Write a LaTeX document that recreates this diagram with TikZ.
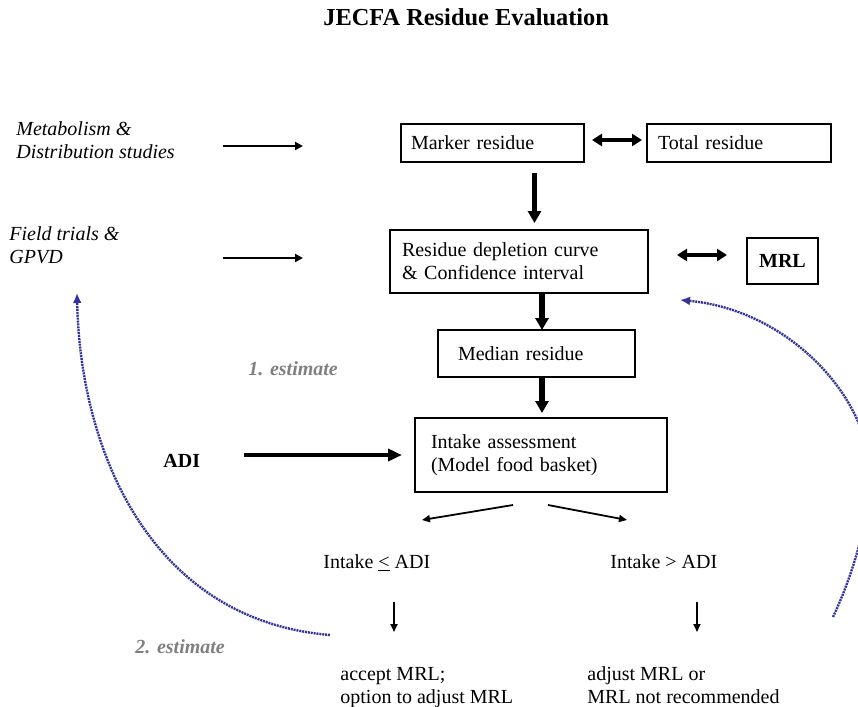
\documentclass[tikz,border=0pt]{standalone}
\usepackage{fontspec}
\setmainfont{Liberation Serif}
\usetikzlibrary{arrows.meta}
\definecolor{loopblue}{RGB}{51,51,153}
\definecolor{notegray}{RGB}{128,128,128}
\tikzset{
    box/.style={draw,line width=0.7pt,anchor=north west,align=left,inner ysep=2pt,outer sep=0pt,font=\fontsize{10}{11.5}\selectfont},
    txt/.style={anchor=base west,align=left,inner sep=0pt,font=\fontsize{10}{11.5}\selectfont},
    note/.style={anchor=base west,inner sep=0pt,text=notegray,font=\fontsize{10}{11.5}\selectfont\bfseries\itshape},
    in arrow/.style={line width=1.2pt,-{Triangle[length=4pt,width=4pt]}},
    flow arrow/.style={line width=2.6pt,-{Triangle[length=6pt,width=6.5pt]}},
    adi arrow/.style={line width=1.9pt,-{Triangle[length=7pt,width=6pt]}},
    both arrow/.style={line width=1.6pt,{Triangle[length=5pt,width=6pt]}-{Triangle[length=5pt,width=6pt]}},
    split arrow/.style={line width=0.9pt,-{Triangle[length=4pt,width=3.5pt]}},
    loop arrow/.style={loopblue,line width=1.2pt,dash pattern=on 1pt off 0.45pt,-{Latex[length=5pt,width=4.5pt]}},
}
\begin{document}
\begin{tikzpicture}[x=0.5pt,y=-0.5pt]
        \path[use as bounding box] (0,0) rectangle (858,707);
        %% title
        \node[anchor=base west,inner sep=0pt,font=\fontsize{12.2}{14}\selectfont\bfseries] (title) at (323,25) {JECFA Residue Evaluation};
        %% boxes
        \node[box,text width=81.5pt,inner xsep=5pt,minimum height=19pt] (marker) at (401,124) {Marker residue};
        \node[box,text width=81pt,inner xsep=5.5pt,minimum height=19pt] (total) at (647,124) {Total residue};
        \node[box,text width=117pt,inner xsep=6pt,minimum height=31.5pt] (curve) at (390,230) {Residue depletion curve\\\& Confidence interval};
        \node[box,align=center,minimum width=35.5pt,minimum height=23pt,inner xsep=0pt,font=\fontsize{10}{11.5}\selectfont\bfseries] (mrl) at (747,238) {MRL};
        \node[box,text width=78.5pt,inner xsep=10pt,minimum height=23.5pt] (median) at (438,330) {Median residue};
        \node[box,text width=110pt,inner xsep=8pt,minimum height=37pt] (intake) at (415,418) {Intake assessment\\(Model food basket)};
        %% inputs (base = last line)
        \node[txt,font=\fontsize{10}{11.5}\selectfont\itshape] (meta) at (16,158) {Metabolism \&\\Distribution studies};
        \node[txt,font=\fontsize{10}{11.5}\selectfont\itshape] (field) at (9,263) {Field trials \&\\GPVD};
        \node[txt,font=\fontsize{10}{11.5}\selectfont\bfseries] (adi) at (163,467) {ADI};
        \coordinate (metaA) at (223,146);
        \coordinate (metaB) at (303,146);
        \coordinate (fieldA) at (223,258);
        \coordinate (fieldB) at (303,258);
        \draw[in arrow] (metaA) -- (metaB);
        \draw[in arrow] (fieldA) -- (fieldB);
        %% main flow
        \draw[both arrow,shorten <=4pt,shorten >=2.5pt] ([yshift=1.5pt]marker.east) -- ([yshift=1.5pt]marker.east -| total.west);
        \draw[both arrow,shorten <=14.5pt,shorten >=10pt] ([yshift=3.25pt]curve.east) -- ([yshift=3.25pt]curve.east -| mrl.west);
        \draw[flow arrow,shorten <=5.5pt,shorten >=3.5pt] ([xshift=21pt]marker.south) -- ([xshift=21pt]marker.south |- curve.north);
        \draw[flow arrow] ([xshift=11.5pt]curve.south) -- ([xshift=11.5pt]curve.south |- median.north);
        \draw[flow arrow,shorten >=2.5pt] ([xshift=2.75pt]median.south) -- ([xshift=2.75pt]median.south |- intake.north);
        \draw[adi arrow,shorten <=22pt,shorten >=6.5pt] (adi.east |- intake.west) -- (intake.west);
        %% outcomes
        \node[txt] (low) at (323,568) {Intake \underline{<} ADI};
        \node[txt] (high) at (610,568) {Intake > ADI};
        \node[txt] (accept) at (340,703) {accept MRL;\\option to adjust MRL};
        \node[txt] (adjust) at (587,703) {adjust MRL or\\MRL not recommended};
        \coordinate (lowtip) at (422,520);
        \coordinate (hightip) at (627,520);
        \draw[split arrow] ([xshift=-14pt,yshift=-6.5pt]intake.south) -- (lowtip);
        \draw[split arrow] ([xshift=3.5pt,yshift=-6.5pt]intake.south) -- (hightip);
        \coordinate (lowA) at (394,602);
        \coordinate (lowB) at (394,632);
        \coordinate (highA) at (697,602);
        \coordinate (highB) at (697,632);
        \draw[split arrow] (lowA) -- (lowB);
        \draw[split arrow] (highA) -- (highB);
        %% estimate loops
        \node[note] (est1) at (248,375) {1. estimate};
        \node[note] (est2) at (135,653) {2. estimate};
        \coordinate (leftA) at (330,635);
        \coordinate (leftB) at (77,293);
        \coordinate (rightA) at (833,617);
        \coordinate (rightB) at (680,300);
        \begin{scope}
            \clip (0,0) rectangle (858,707);
            \draw[loop arrow] (leftA) .. controls (150,620) and (80,450) .. (leftB);
            \draw[loop arrow] (rightA) .. controls (855,570) and (868,520) .. (870,478) .. controls (872,400) and (790,310) .. (rightB);
        \end{scope}
\end{tikzpicture}
\end{document}
